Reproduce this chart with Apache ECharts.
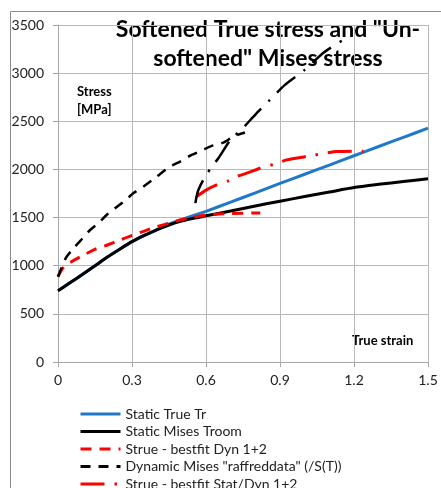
<!DOCTYPE html>
<html>
<head>
<meta charset="UTF-8">
<title>Softened True stress</title>
<script src="https://cdn.jsdelivr.net/npm/echarts@6/dist/echarts.min.js"></script>
<style>
  *{margin:0;padding:0;}
  body{background:#fff;}
  #main{width:441px;height:488px;}
</style>
</head>
<body>
<div id="main"></div>
<script>
// axis ticks
var xTicks = [0, 0.3, 0.6, 0.9, 1.2, 1.5];
var yTicks = [0, 500, 1000, 1500, 2000, 2500, 3000, 3500];

// Static True Tr (blue)
var trueStrain = [0, 0.05, 0.1, 0.15, 0.2, 0.25, 0.3, 0.35, 0.4, 0.45, 0.5, 0.6, 0.7, 0.8, 0.9, 1.0, 1.1, 1.2, 1.3, 1.4, 1.5];
var trueStress = [740, 825, 912, 1000, 1090, 1172, 1250, 1315, 1373, 1432, 1478, 1565, 1660, 1757, 1855, 1950, 2045, 2142, 2238, 2333, 2428];

// Static Mises Troom (black)
var misesStrain = [0, 0.05, 0.1, 0.15, 0.2, 0.25, 0.3, 0.35, 0.4, 0.45, 0.5, 0.55, 0.6, 0.7, 0.8, 0.9, 1.0, 1.1, 1.2, 1.3, 1.4, 1.5];
var misesStress = [740, 825, 912, 1000, 1090, 1172, 1250, 1315, 1373, 1423, 1463, 1493, 1518, 1568, 1620, 1670, 1718, 1765, 1812, 1845, 1875, 1902];

// Strue - bestfit Dyn 1+2 (red dashed)
var dynStrain = [0, 0.015, 0.03, 0.055, 0.1, 0.15, 0.2, 0.25, 0.3, 0.35, 0.4, 0.45, 0.5, 0.55, 0.6, 0.65, 0.7, 0.82];
var dynStress = [886, 960, 1000, 1042, 1105, 1170, 1215, 1265, 1316, 1360, 1406, 1441, 1478, 1505, 1524, 1536, 1543, 1548];

// Dynamic Mises "raffreddata" (/S(T)) (black dashed)
var rafStrain = [0, 0.01, 0.02, 0.035, 0.069, 0.096, 0.13, 0.163, 0.197, 0.231, 0.272, 0.305, 0.346, 0.4, 0.454, 0.495, 0.542, 0.583, 0.623, 0.67, 0.711, 0.758];
var rafStress = [886, 950, 1020, 1094, 1198, 1275, 1371, 1441, 1527, 1597, 1676, 1752, 1821, 1925, 2029, 2081, 2151, 2196, 2244, 2278, 2341, 2383];

// Strue - bestfit Stat/Dyn 1+2 (red dash-dot)
var statDynStrain = [0.562, 0.6, 0.643, 0.69, 0.724, 0.78, 0.819, 0.88, 0.927, 1.02, 1.082, 1.13, 1.238];
var statDynStress = [1718, 1785, 1840, 1880, 1925, 1975, 2012, 2057, 2099, 2140, 2168, 2185, 2190];

// Dynamic Mises Stat/Dyn (black dash-dot)
var misesDynStrain = [0.557, 0.561, 0.569, 0.589, 0.619, 0.65, 0.7, 0.745, 0.8, 0.859, 0.92, 1.0, 1.075, 1.156];
var misesDynStress = [1650, 1710, 1787, 1891, 2012, 2116, 2310, 2417, 2570, 2722, 2878, 3034, 3210, 3345];

var seriesNames = ['Static True Tr', 'Static Mises Troom', 'Strue - bestfit Dyn 1+2',
  'Dynamic Mises "raffreddata" (/S(T))', 'Strue - bestfit Stat/Dyn 1+2', 'Dynamic Mises "raffreddata" Stat/Dyn'];

function pairs(xs, ys) {
  return xs.map(function (x, i) { return [x, ys[i]]; });
}

var font = 'Lato';
var myChart = echarts.init(document.getElementById('main'));

var option = {
  animation: false,
  textStyle: {fontFamily: font},
  grid: {left: 58, right: 13, top: 25, bottom: 126},
  xAxis: {
    type: 'value', min: 0, max: 1.5, interval: 0.3,
    axisLine: {show: true, lineStyle: {color: '#a6a6a6'}},
    axisTick: {show: true, length: 5, lineStyle: {color: '#a6a6a6'}},
    axisLabel: {color: '#222', fontSize: 14, fontFamily: font, margin: 11,
      formatter: function (v) { return xTicks.indexOf(Math.round(v * 10) / 10) >= 0 ? String(Math.round(v * 10) / 10) : ''; }},
    splitLine: {show: true, lineStyle: {color: '#b8b8b8'}}
  },
  yAxis: {
    type: 'value', min: 0, max: 3500, interval: 500,
    axisLine: {show: true, lineStyle: {color: '#a6a6a6'}},
    axisTick: {show: true, length: 5, lineStyle: {color: '#a6a6a6'}},
    axisLabel: {color: '#222', fontSize: 14, fontFamily: font, margin: 14,
      formatter: function (v) { return yTicks.indexOf(v) >= 0 ? String(v) : ''; }},
    splitLine: {show: true, lineStyle: {color: '#b8b8b8'}}
  },
  legend: {
    orient: 'vertical', left: 74, top: 402, height: 300,
    itemWidth: 40, itemHeight: 14, itemGap: 3.5,
    itemStyle: {opacity: 0},
    lineStyle: {width: 3},
    textStyle: {color: '#222', fontSize: 14, fontFamily: font},
    data: seriesNames
  },
  graphic: [
    {type: 'rect', silent: true, z: 0,
      shape: {x: 10.5, y: 11.5, width: 600, height: 600},
      style: {fill: 'none', stroke: '#8c8c8c', lineWidth: 1}},
    {type: 'text', z: 0, x: 268, y: 15,
      style: {text: 'Softened True stress and "Un-\nsoftened" Mises stress', fontFamily: font,
        fontWeight: 'bold', fontSize: 23, lineHeight: 29, fill: '#000', textAlign: 'center'}},
    {type: 'text', z: 0, x: 77, y: 83,
      style: {text: 'Stress\n[MPa]', fontFamily: font, fontWeight: 'bold', fontSize: 13, lineHeight: 18, fill: '#000'}},
    {type: 'text', z: 0, x: 352, y: 334,
      style: {text: 'True strain', fontFamily: font, fontWeight: 'bold', fontSize: 13, fill: '#000'}}
  ],
  series: [
    {name: seriesNames[0], type: 'line', symbol: 'none', smooth: 0.2,
      data: pairs(trueStrain, trueStress),
      itemStyle: {color: '#1f78c8'}, lineStyle: {color: '#1f78c8', width: 3}},
    {name: seriesNames[1], type: 'line', symbol: 'none', smooth: 0.2,
      data: pairs(misesStrain, misesStress),
      itemStyle: {color: '#000'}, lineStyle: {color: '#000', width: 3}},
    {name: seriesNames[2], type: 'line', symbol: 'none', smooth: 0.2,
      data: pairs(dynStrain, dynStress),
      itemStyle: {color: '#ff0000'}, lineStyle: {color: '#ff0000', width: 3, type: [11, 8], cap: 'butt'}},
    {name: seriesNames[3], type: 'line', symbol: 'none', smooth: 0.2,
      data: pairs(rafStrain, rafStress),
      itemStyle: {color: '#000'}, lineStyle: {color: '#000', width: 2.5, type: [10, 8], cap: 'butt'}},
    {name: seriesNames[4], type: 'line', symbol: 'none', smooth: 0.2,
      data: pairs(statDynStrain, statDynStress),
      itemStyle: {color: '#ff0000'}, lineStyle: {color: '#ff0000', width: 3, type: [24, 10, 2.5, 10], cap: 'butt'}},
    {name: seriesNames[5], type: 'line', symbol: 'none', smooth: 0.2,
      data: pairs(misesDynStrain, misesDynStress),
      itemStyle: {color: '#000'}, lineStyle: {color: '#000', width: 2.5, type: [24, 10, 2.5, 10], cap: 'butt'}}
  ]
};

myChart.setOption(option);
</script>
</body>
</html>
